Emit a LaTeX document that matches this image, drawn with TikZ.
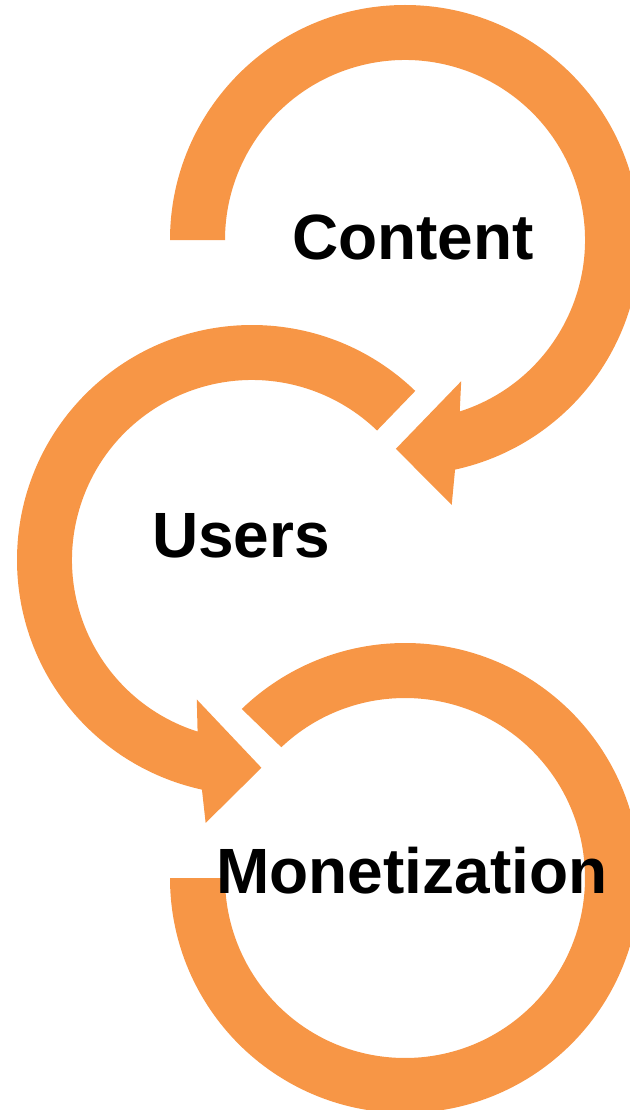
\documentclass[tikz,border=0pt]{standalone}
\usepackage{fontspec}
\setmainfont{Liberation Sans}
\usetikzlibrary{calc}
\definecolor{ringorange}{HTML}{F79646}
\begin{document}
\begin{tikzpicture}[x=1pt,y=1pt,
  ring/.style={fill=ringorange, draw=none},
  lbl/.style={font=\fontsize{64}{64}\selectfont\bfseries, text=black, inner sep=0pt, anchor=base}]
\useasboundingbox (0,0) rectangle (629,-1110);
\coordinate (c1) at (405,-240);
\coordinate (c2) at (252,-560);
\coordinate (c3) at (405,-878);
% ring 1 (Content)
\fill[ring] ($(c1)+(180:235)$) arc[start angle=180, end angle=-77.7, radius=235]
  -- ($(c1)+(-80:269)$) -- ($(c1)+(-92.5:209)$) -- ($(c1)+(-68.3:152)$)
  -- ($(c1)+(-72.3:180)$) arc[start angle=-72.3, end angle=180, radius=180] -- cycle;
% ring 2 (Users)
\fill[ring] ($(c2)+(46:235)$) arc[start angle=46, end angle=257.7, radius=235]
  -- ($(c2)+(260:267)$) -- ($(c2)+(272.6:208)$) -- ($(c2)+(248.4:150)$)
  -- ($(c2)+(252.4:180)$) arc[start angle=252.4, end angle=46, radius=180] -- cycle;
% ring 3 (Monetization)
\fill[ring] ($(c3)+(180:235)$) arc[start angle=180, end angle=494, radius=235]
  -- ($(c3)+(493.4:180)$) arc[start angle=493.4, end angle=180, radius=180] -- cycle;
\node[lbl] (content) at (413,-259) {Content};
\node[lbl] (users) at (241,-557) {Users};
\node[lbl] (monetization) at (412,-893) {Monetization};
\end{tikzpicture}
\end{document}
